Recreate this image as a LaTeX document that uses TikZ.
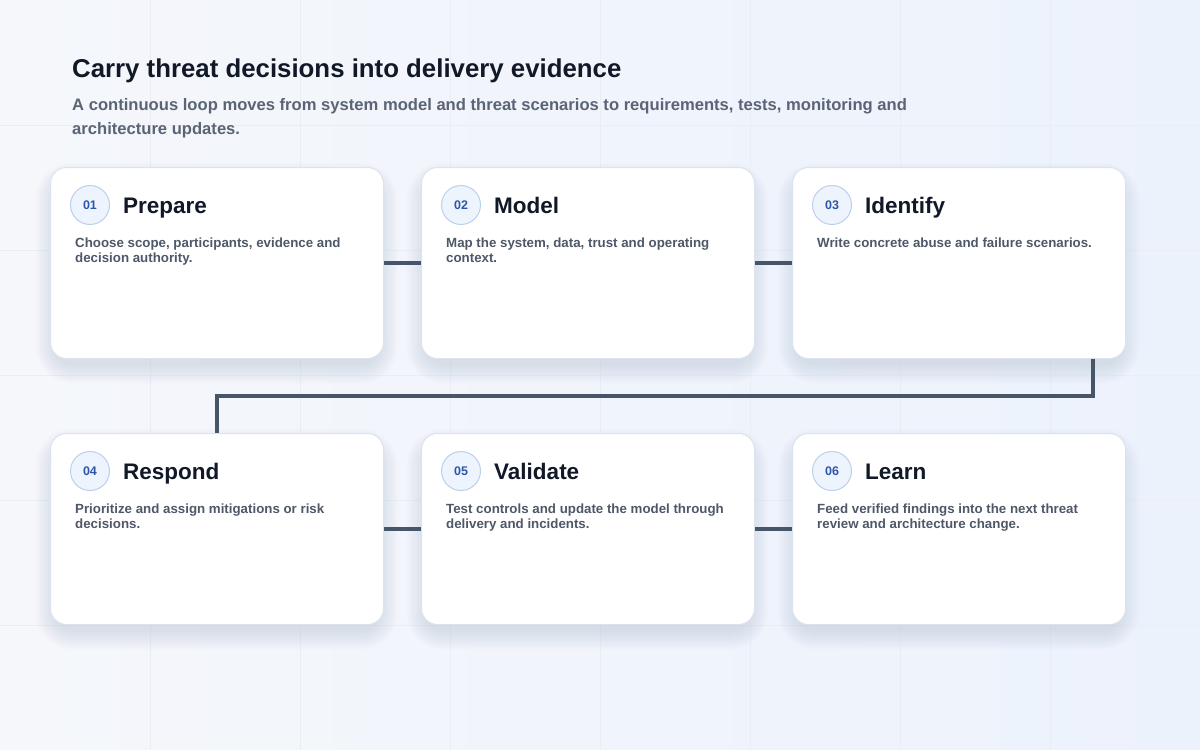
\documentclass[tikz,border=0pt]{standalone}
\usepackage{fontspec}
\setmainfont{Liberation Sans}
\usetikzlibrary{positioning}
\usetikzlibrary{calc}

\definecolor{ink}{HTML}{111827}
\definecolor{muted}{HTML}{4E5868}
\definecolor{subtle}{HTML}{5A6475}
\definecolor{wire}{HTML}{475569}
\definecolor{cardline}{HTML}{DCE3EE}
\definecolor{badgeline}{HTML}{BCCFEB}
\definecolor{badgefill}{HTML}{EEF4FE}
\definecolor{badgeblue}{HTML}{2E56A8}
\definecolor{bgleft}{HTML}{F5F7FB}
\definecolor{bgright}{HTML}{ECF2FC}
\definecolor{gridline}{HTML}{E9EDF4}
\definecolor{shadowcol}{HTML}{8A97B4}

\tikzset{
  card/.style={draw=cardline, fill=white, line width=1pt, rounded corners=16pt,
    minimum width=333pt, minimum height=191pt, anchor=north west},
  badge/.style={circle, draw=badgeline, fill=badgefill, line width=1pt, minimum size=39pt,
    inner sep=0pt, text=badgeblue, font=\fontsize{12.5}{12}\selectfont\bfseries},
  cardtitle/.style={anchor=base west, inner sep=0pt, text=ink, font=\fontsize{22.5}{26}\selectfont\bfseries},
  cardbody/.style={anchor=north west, align=left, inner sep=0pt, text=muted,
    font=\fontsize{13.3}{15}\selectfont\bfseries},
  link/.style={draw=wire, line width=4pt},
}

\begin{document}
\begin{tikzpicture}[x=1pt, y=-1pt]
  \useasboundingbox (0,0) rectangle (1200,750);
  \shade[left color=bgleft, right color=bgright] (0,0) rectangle (1200,750);
  \foreach \i in {150, 300, ..., 1050} {
    \draw[gridline, line width=0.7pt] (\i, 0) -- (\i, 750);
  }
  \foreach \i in {125, 250, ..., 625} {
    \draw[gridline, line width=0.7pt] (0, \i) -- (1200, \i);
  }

  \node[anchor=base west, inner sep=0pt, text=ink, font=\fontsize{25.8}{30}\selectfont\bfseries]
    (title) at (72, 77) {Carry threat decisions into delivery evidence};
  \node[anchor=north west, inner sep=0pt, align=left, text=subtle, font=\fontsize{16.6}{24}\selectfont\bfseries]
    (subtitle) at (72, 98) {A continuous loop moves from system model and threat scenarios to requirements, tests, monitoring and\\architecture updates.};

  % soft shadows under the cards
  \foreach \x / \y in {50/167, 421/167, 792/167, 50/433, 421/433, 792/433} {
    \foreach \s in {2, 4, ..., 20} {
      \fill[shadowcol, opacity=0.024, rounded corners=16pt+\s]
        (\x-\s+6, \y-\s+16) rectangle (\x+333+\s-6, \y+191+\s+5);
    }
  }

  \foreach \n / \x / \y / \head / \body in {
      1/50/167/Prepare/{Choose scope, participants, evidence and\\decision authority.},
      2/421/167/Model/{Map the system, data, trust and operating\\context.},
      3/792/167/Identify/{Write concrete abuse and failure scenarios.},
      4/50/433/Respond/{Prioritize and assign mitigations or risk\\decisions.},
      5/421/433/Validate/{Test controls and update the model through\\delivery and incidents.},
      6/792/433/Learn/{Feed verified findings into the next threat\\review and architecture change.}} {
    \node[card] (c\n) at (\x, \y) {};
    \node[badge] (b\n) at (\x+40, \y+38) {0\n};
    \node[cardtitle] (h\n) at (\x+73, \y+46) {\head};
    \node[cardbody] (t\n) at (\x+25, \y+71) {\body};
  }

  \draw[link] (c1.east) -- (c2.west);
  \draw[link] (c2.east) -- (c3.west);
  \draw[link] ([xshift=-33pt]c3.south east) -- ++(0, 37) -| (c4.north);
  \draw[link] (c4.east) -- (c5.west);
  \draw[link] (c5.east) -- (c6.west);
\end{tikzpicture}
\end{document}
